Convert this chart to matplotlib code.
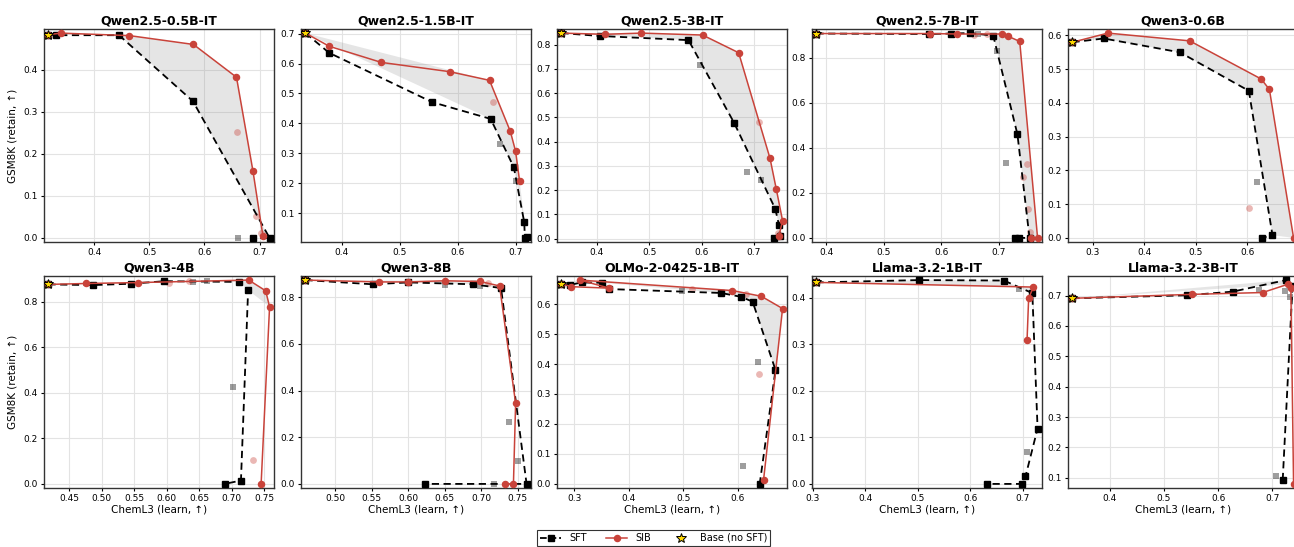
import numpy as np
import matplotlib
matplotlib.use('Agg')
from matplotlib import pyplot as plt
from matplotlib.lines import Line2D
from matplotlib.ticker import MultipleLocator

plt.rcParams['font.family'] = ['DejaVu Sans']

models = ["Qwen2.5-0.5B-IT", "Qwen2.5-1.5B-IT", "Qwen2.5-3B-IT", "Qwen2.5-7B-IT", "Qwen3-0.6B",
          "Qwen3-4B", "Qwen3-8B", "OLMo-2-0425-1B-IT", "Llama-3.2-1B-IT", "Llama-3.2-3B-IT"]

# base model (no SFT)
base_x = [0.317, 0.337, 0.332, 0.383, 0.260, 0.418, 0.459, 0.276, 0.307, 0.331]
base_y = [0.483, 0.702, 0.848, 0.907, 0.580, 0.875, 0.873, 0.668, 0.433, 0.691]

# SFT frontier runs (in line order)
sft_x = [
    [0.331, 0.445, 0.579, 0.718, 0.688],
    [0.378, 0.556, 0.657, 0.697, 0.715, 0.716, 0.719],
    [0.406, 0.575, 0.662, 0.741, 0.748, 0.750, 0.738],
    [0.578, 0.616, 0.649, 0.690, 0.732, 0.753, 0.734, 0.727],
    [0.321, 0.469, 0.603, 0.649, 0.629],
    [0.486, 0.545, 0.596, 0.711, 0.725, 0.714, 0.689],
    [0.551, 0.600, 0.688, 0.727, 0.762, 0.623],
    [0.292, 0.313, 0.350, 0.364, 0.569, 0.606, 0.627, 0.669, 0.640],
    [0.503, 0.664, 0.718, 0.728, 0.705, 0.699, 0.632],
    [0.543, 0.627, 0.725, 0.737, 0.719],
]
sft_y = [
    [0.482, 0.482, 0.325, 0.000, 0.000],
    [0.636, 0.471, 0.415, 0.253, 0.069, 0.017, 0.019],
    [0.836, 0.819, 0.479, 0.123, 0.057, 0.012, 0.003],
    [0.905, 0.907, 0.909, 0.898, 0.460, 0.000, 0.000, 0.000],
    [0.591, 0.550, 0.436, 0.008, 0.000],
    [0.872, 0.878, 0.889, 0.886, 0.850, 0.015, 0.000],
    [0.855, 0.863, 0.855, 0.839, 0.000, 0.000],
    [0.664, 0.672, 0.671, 0.650, 0.637, 0.624, 0.608, 0.380, 0.000],
    [0.438, 0.437, 0.410, 0.119, 0.016, 0.000, 0.000],
    [0.701, 0.713, 0.751, 0.730, 0.094],
]

# SFT runs off the frontier
sft_off_x = [
    [0.661], [0.673, 0.700], [0.597, 0.687, 0.713], [0.664, 0.697, 0.712], [0.618],
    [0.640, 0.662, 0.702], [0.650, 0.698, 0.738, 0.750, 0.717], [0.498, 0.637, 0.609],
    [0.693, 0.707], [0.675, 0.706, 0.723, 0.733],
]
sft_off_y = [
    [0.000], [0.332, 0.206], [0.716, 0.276, 0.243], [0.907, 0.829, 0.334], [0.166],
    [0.885, 0.889, 0.423], [0.852, 0.846, 0.264, 0.098, 0.000], [0.645, 0.406, 0.060],
    [0.418, 0.069], [0.719, 0.105, 0.716, 0.694],
]

# SIB frontier runs (in line order)
sib_x = [
    [0.339, 0.464, 0.580, 0.658, 0.688, 0.706],
    [0.378, 0.468, 0.586, 0.655, 0.691, 0.700, 0.707],
    [0.415, 0.485, 0.602, 0.671, 0.731, 0.743, 0.755, 0.748],
    [0.580, 0.627, 0.705, 0.715, 0.736, 0.767, 0.756],
    [0.329, 0.488, 0.627, 0.643, 0.690],
    [0.476, 0.555, 0.726, 0.752, 0.758, 0.745],
    [0.560, 0.599, 0.650, 0.698, 0.725, 0.747, 0.744, 0.733],
    [0.294, 0.364, 0.310, 0.590, 0.643, 0.682, 0.647],
    [0.720, 0.711, 0.708],
    [0.552, 0.682, 0.728, 0.734, 0.739],
]
sib_y = [
    [0.487, 0.481, 0.460, 0.382, 0.158, 0.004],
    [0.658, 0.604, 0.573, 0.544, 0.373, 0.307, 0.206],
    [0.843, 0.848, 0.840, 0.767, 0.331, 0.204, 0.074, 0.011],
    [0.907, 0.905, 0.905, 0.896, 0.872, 0.000, 0.000],
    [0.607, 0.584, 0.471, 0.440, 0.000],
    [0.879, 0.883, 0.894, 0.847, 0.777, 0.000],
    [0.865, 0.865, 0.870, 0.867, 0.848, 0.345, 0.000, 0.000],
    [0.658, 0.653, 0.680, 0.645, 0.626, 0.585, 0.012],
    [0.423, 0.399, 0.310],
    [0.704, 0.710, 0.737, 0.724, 0.080],
]

# SIB runs off the frontier
sib_off_x = [
    [0.659, 0.688, 0.693, 0.703], [0.661], [0.709, 0.746], [0.656, 0.679, 0.748, 0.742, 0.751, 0.753],
    [0.603], [0.604, 0.634, 0.733], [0.709], [0.516, 0.615, 0.639], [], [],
]
sib_off_y = [
    [0.251, 0.160, 0.052, 0.011], [0.470], [0.480, 0.022], [0.902, 0.907, 0.328, 0.270, 0.129, 0.027],
    [0.089], [0.883, 0.888, 0.105], [0.862], [0.650, 0.633, 0.367], [], [],
]

# tick spacing per panel
x_step = [0.1, 0.1, 0.1, 0.1, 0.1, 0.05, 0.05, 0.1, 0.1, 0.1]
y_step = [0.1, 0.1, 0.1, 0.2, 0.1, 0.2, 0.2, 0.1, 0.1, 0.1]

RED = '#c9433a'


def upper_hull(xs, ys):
    pts = sorted(zip(xs, ys))
    hull = []
    for p in pts:
        while len(hull) >= 2:
            (ox, oy), (ax_, ay) = hull[-2], hull[-1]
            if (ax_ - ox) * (p[1] - oy) - (ay - oy) * (p[0] - ox) >= 0:
                hull.pop()
            else:
                break
        hull.append(p)
    return hull


fig = plt.figure(figsize=(12.94, 5.47), dpi=100)
W, H = 1294, 547
lefts = [44, 301, 557, 812, 1068]
aw = 230
rows = [(29, 242), (276, 488)]

for i, name in enumerate(models):
    r, c = divmod(i, 5)
    top, bot = rows[r]
    ax = fig.add_axes([lefts[c] / W, 1 - bot / H, aw / W, (bot - top) / H])

    bx, by = base_x[i], base_y[i]
    fx = [bx] + sft_x[i]
    fy = [by] + sft_y[i]
    gx = [bx] + sib_x[i]
    gy = [by] + sib_y[i]

    # shaded gap between the two frontiers
    h_sib = upper_hull(gx, gy)
    h_sft = upper_hull(fx, fy)
    poly = h_sib + h_sft[::-1]
    ax.fill([p[0] for p in poly], [p[1] for p in poly], color='gray', alpha=0.2, lw=0, zorder=1)

    ax.scatter(sft_off_x[i], sft_off_y[i], marker='s', s=22, color='black', alpha=0.38, lw=0, zorder=2)
    ax.scatter(sib_off_x[i], sib_off_y[i], marker='o', s=24, color=RED, alpha=0.38, lw=0, zorder=2)

    ax.plot(fx, fy, '--s', color='black', lw=1.3, ms=4.2, dashes=(4, 2.5), zorder=3)
    ax.plot(gx, gy, '-o', color=RED, lw=1.1, ms=4.4, zorder=4)
    ax.plot(bx, by, '*', color='#ffd700', mec='black', mew=0.7, ms=7, zorder=5)

    ax.margins(0.02)
    ax.xaxis.set_major_locator(MultipleLocator(x_step[i]))
    ax.yaxis.set_major_locator(MultipleLocator(y_step[i]))
    ax.set_title(name, fontsize=9, fontweight='bold', pad=3)
    ax.tick_params(labelsize=6.5, length=2.5, width=0.8, pad=2)
    ax.grid(True, color='#e3e3e3', lw=0.8)
    ax.set_axisbelow(True)
    for s in ax.spines.values():
        s.set_color('#333333')
        s.set_linewidth(1.0)
    if c == 0:
        ax.set_ylabel("GSM8K (retain, ↑)", fontsize=7.5)
    if r == 1:
        ax.set_xlabel("ChemL3 (learn, ↑)", fontsize=7.5, labelpad=1)

handles = [
    Line2D([], [], color='black', ls='--', marker='s', lw=1.3, ms=4.2),
    Line2D([], [], color=RED, ls='-', marker='o', lw=1.1, ms=4.4),
    Line2D([], [], color='#ffd700', ls='none', marker='*', mec='black', mew=0.7, ms=7),
]
leg = fig.legend(handles, ['SFT', 'SIB', 'Base (no SFT)'], loc='center', bbox_to_anchor=(0.505, 0.0165),
                 ncol=3, fontsize=7, frameon=True, fancybox=False, edgecolor='black',
                 borderpad=0.3, handlelength=2.2, columnspacing=2.0)
leg.get_frame().set_linewidth(0.8)

fig.savefig('out.png', dpi=100)
